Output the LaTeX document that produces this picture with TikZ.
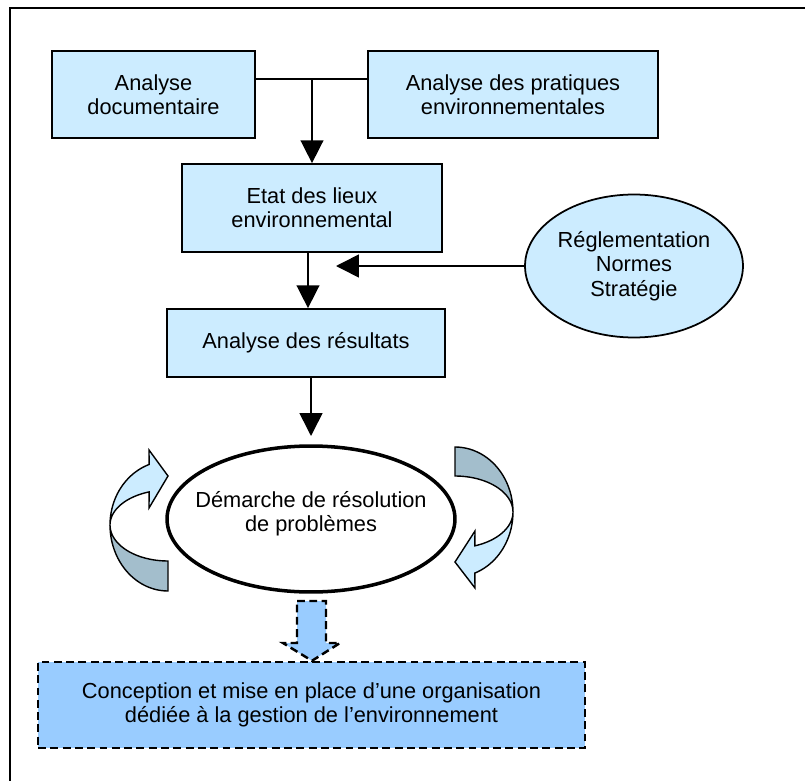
\documentclass[tikz,border=0pt]{standalone}
\usepackage{fontspec}
\setmainfont{Liberation Sans}
\usepackage{xcolor}
\usepackage{tikz}
\usetikzlibrary{shapes,arrows.meta,positioning,calc}
\usetikzlibrary{shapes.geometric}

\definecolor{boxblue}{RGB}{204,236,255}
\definecolor{bandgray}{RGB}{163,190,204}
\definecolor{orgblue}{RGB}{153,204,255}

\begin{document}
\begin{tikzpicture}[x=0.02cm,y=-0.02cm,
	every node/.style={font=\fontsize{12.4}{13.8}\selectfont,align=center,inner sep=0pt},
	etape/.style={draw,fill=boxblue,line width=1pt},
	fleche/.style={-{Triangle[length=13pt,width=13pt]},line width=0.9pt},
	bande/.style={draw,line width=0.8pt},
	tirets/.style={line width=1.4pt,dash pattern=on 4.5pt off 2.5pt}]
		\useasboundingbox (0,0) rectangle (805,781);
		% cadre
		\draw[line width=1.2pt] (815,8) -- (10,8) -- (10,795);
		% etapes
		\node[etape,minimum width=4.06cm,minimum height=1.74cm] (doc) at (153.5,94.5) {Analyse\\documentaire};
		\node[etape,minimum width=5.8cm,minimum height=1.74cm] (prat) at (513,94.5) {Analyse des pratiques\\environnementales};
		\node[etape,minimum width=5.2cm,minimum height=1.76cm] (etat) at (312,208) {Etat des lieux\\environnemental};
		\node[etape,minimum width=5.56cm,minimum height=1.36cm] (res) at (306,343) {Analyse des r\'esultats};
		\node[etape,ellipse,minimum width=4.36cm,minimum height=2.86cm] (regl) at (634,266) {R\'eglementation\\Normes\\Strat\'egie};
		\node[draw,ellipse,line width=2pt,minimum width=5.76cm,minimum height=2.92cm] (dem) at (311,519) {};
		\node at (311,514) {D\'emarche de r\'esolution\\de probl\`emes};
		\node[draw,fill=orgblue,tirets,minimum width=10.94cm,minimum height=1.72cm] (org) at (311.5,705) {Conception et mise en place d’une organisation\\d\'edi\'ee \`a la gestion de l’environnement};
		% liaisons
		\coordinate (j) at (312,79);
		\coordinate (t1) at (336,266);
		\coordinate (t2) at (311,436);
		\draw[line width=0.9pt] (doc.east |- j) -- (prat.west |- j);
		\draw[fleche] (j) -- (etat.north);
		\draw[fleche] (etat.south -| 308,0) -- (res.north -| 308,0);
		\draw[fleche] (regl.west) -- (t1);
		\draw[fleche] (res.south -| t2) -- (t2);
		% fleches circulaires
		\filldraw[bande,fill=boxblue] plot[domain=180:251,variable=\t,samples=25,smooth] ({168+58*cos(\t)},{525+64*sin(\t)})
			-- (149,450) -- (168,476) -- (149,508)
			-- plot[domain=251:180,variable=\t,samples=25,smooth] ({168+58*cos(\t)},{525+35*sin(\t)}) -- cycle;
		\filldraw[bande,fill=bandgray] plot[domain=90:180,variable=\t,samples=25,smooth] ({168+58*cos(\t)},{525+66*sin(\t)})
			-- plot[domain=180:90,variable=\t,samples=25,smooth] ({168+58*cos(\t)},{525+36*sin(\t)}) -- cycle;
		\filldraw[bande,fill=bandgray] plot[domain=270:360,variable=\t,samples=25,smooth] ({455+58*cos(\t)},{512+65*sin(\t)})
			-- plot[domain=360:270,variable=\t,samples=25,smooth] ({455+58*cos(\t)},{512+36*sin(\t)}) -- cycle;
		\filldraw[bande,fill=boxblue] plot[domain=0:70,variable=\t,samples=25,smooth] ({455+58*cos(\t)},{512+65*sin(\t)})
			-- (475,588) -- (455,562) -- (475,531)
			-- plot[domain=70:0,variable=\t,samples=25,smooth] ({455+58*cos(\t)},{512+36*sin(\t)}) -- cycle;
		% fleche vers l'organisation
		\filldraw[fill=orgblue,tirets] (297,601) -- (326,601) -- (326,643) -- (340,643) -- (org.north -| 312,0) -- (283,643) -- (297,643) -- cycle;
	\end{tikzpicture}
\end{document}
